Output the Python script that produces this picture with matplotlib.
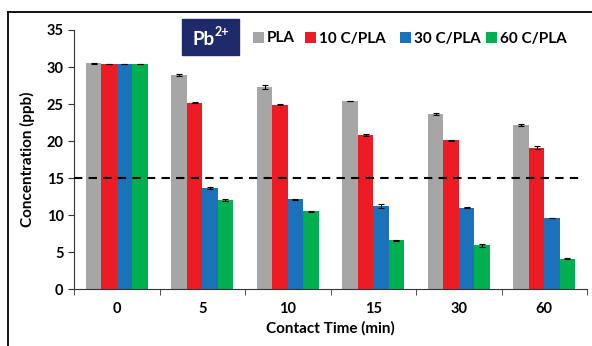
import matplotlib
matplotlib.use("Agg")
import matplotlib.pyplot as plt
import numpy as np
from matplotlib.lines import Line2D
from matplotlib.patches import Rectangle

categories = ["0", "5", "10", "15", "30", "60"]
series_names = ["PLA", "10 C/PLA", "30 C/PLA", "60 C/PLA"]
pla = [30.5, 28.9, 27.3, 25.4, 23.6, 22.2]
c10 = [30.4, 25.2, 24.9, 20.8, 20.1, 19.1]
c30 = [30.4, 13.7, 12.1, 11.2, 11.0, 9.6]
c60 = [30.4, 12.0, 10.5, 6.6, 5.9, 4.1]
pla_err = [0.05, 0.1, 0.25, 0.05, 0.15, 0.15]
c10_err = [0.05, 0.05, 0.05, 0.15, 0.05, 0.2]
c30_err = [0.05, 0.15, 0.05, 0.3, 0.05, 0.05]
c60_err = [0.05, 0.1, 0.1, 0.05, 0.2, 0.1]
threshold = 15
colors = ["#A6A6A6", "#ED1C24", "#1B72BA", "#00B050"]

plt.rcParams['font.family'] = ['Lato', 'DejaVu Sans']
plt.rcParams['font.weight'] = 'bold'

W, H = 592, 346
fig = plt.figure(figsize=(W / 100, H / 100), dpi=100)
ax = fig.add_axes([0.125, 0.1647, 0.8666, 0.7486])

x = np.arange(len(categories))
w = 0.181
vals = [pla, c10, c30, c60]
errs = [pla_err, c10_err, c30_err, c60_err]
for i, (v, e, c, n) in enumerate(zip(vals, errs, colors, series_names)):
    ax.bar(x + (i - 1.5) * w, v, w, color=c, label=n, zorder=2,
           yerr=e, capsize=2, error_kw=dict(elinewidth=0.8, capthick=0.8, ecolor='black'))

ax.axhline(threshold, xmin=0, xmax=0.985, color='black', linestyle=(0, (4, 3)), linewidth=1.5, zorder=3)

ax.set_xlim(-0.5, len(categories) - 0.5)
ax.set_ylim(0, 35)
ax.set_yticks(np.arange(0, 36, 5))
ax.set_xticks(x)
ax.set_xticklabels(categories, fontsize=10.5, fontweight='bold')
ax.set_xticks(np.arange(-0.5, len(categories), 1), minor=True)
ax.tick_params(axis='x', which='major', length=0, pad=9)
ax.tick_params(axis='x', which='minor', length=4, direction='out', color='#333333')
ax.tick_params(axis='y', length=4, direction='out', labelsize=10.5, color='#333333')
for lab in ax.get_yticklabels():
    lab.set_fontweight('bold')
for s in ['top', 'right']:
    ax.spines[s].set_visible(False)
for s in ['left', 'bottom']:
    ax.spines[s].set_color('#333333')
    ax.spines[s].set_linewidth(0.8)

ax.set_ylabel("Concentration (ppb)", fontsize=11, fontweight='bold', labelpad=8)
ax.set_xlabel("Contact Time (min)", fontsize=11, fontweight='bold', labelpad=4)

# legend drawn manually (pixel layout of the reference)
def fx(px):
    return px / W

def fy(py):
    return 1 - py / H

sq_left = [253, 305, 400, 486]
txt_left = [267, 319, 414, 500]
yc = 37
for c, n, sl, tl in zip(colors, series_names, sq_left, txt_left):
    fig.add_artist(Rectangle((fx(sl), fy(yc + 5.5)), 11 / W, 11 / H, transform=fig.transFigure,
                             facecolor=c, edgecolor='none'))
    fig.text(fx(tl), fy(yc), n, ha='left', va='center_baseline', fontsize=11,
             fontweight='bold', color='black')

# Pb2+ label box
fig.add_artist(Rectangle((fx(182), fy(55)), 57 / W, 36 / H, transform=fig.transFigure,
                         facecolor='#1F2A6B', edgecolor='#1F2A6B'))
fig.text(fx(192), fy(38), "Pb", ha='left', va='center_baseline', fontsize=13.5,
         fontweight='bold', color='white')
fig.text(fx(215), fy(31), "2+", ha='left', va='center_baseline', fontsize=9,
         fontweight='bold', color='white')

# figure frame (top and left edges)
fig.add_artist(Line2D([fx(8), 1.0], [fy(12), fy(12)], color='black', linewidth=1.3,
                      transform=fig.transFigure))
fig.add_artist(Line2D([fx(8), fx(8)], [0.0, fy(12)], color='black', linewidth=1.3,
                      transform=fig.transFigure))

fig.savefig("out.png", dpi=100)
